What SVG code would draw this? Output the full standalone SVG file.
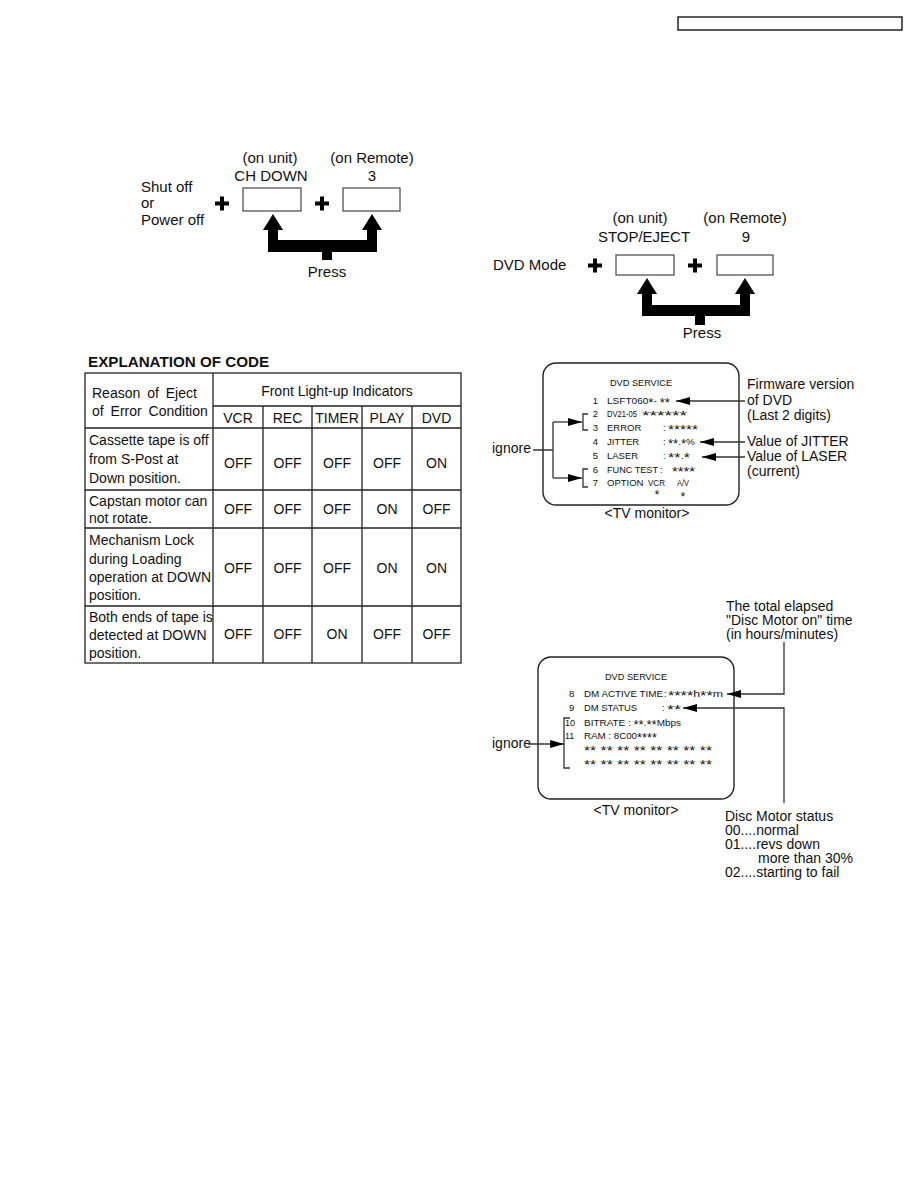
<svg xmlns="http://www.w3.org/2000/svg" width="918" height="1188" viewBox="0 0 918 1188">
<defs>
<style>
text{font-family:"Liberation Sans",Arial,sans-serif;fill:#111}
.t15{font-size:15px}
.t14{font-size:14px}
.tv{font-size:9.5px}
.st{font-size:12.5px}
.mid{text-anchor:middle}
.end{text-anchor:end}
.box{fill:#fff;stroke:#444;stroke-width:1.2}
.plus{stroke:#000;stroke-width:4;fill:none}
.grid{stroke:#222;stroke-width:1.3;fill:none}
.scr{fill:#fff;stroke:#222;stroke-width:1.4}
.ln{stroke:#333;stroke-width:1.3;fill:none}
.bold{font-weight:bold}
</style>
<marker id="ah" markerUnits="userSpaceOnUse" markerWidth="14" markerHeight="8" refX="14" refY="4" orient="auto">
<path d="M0,0 L14,4 L0,8 z" fill="#000"/>
</marker>
</defs>
<rect width="918" height="1188" fill="#fff"/>

<rect id="header-box" x="678" y="17" width="224" height="13" fill="none" stroke="#000" stroke-width="1.3"/>

<g id="power-combo">
<text class="t15" x="141" y="192">Shut off</text>
<text class="t15" x="141" y="208">or</text>
<text class="t15" x="141" y="225">Power off</text>
<path class="plus" d="M215,203.5 h14 M222,196.5 v14"/>
<text class="t15 mid" x="270" y="163">(on unit)</text>
<text class="t15 mid" x="271" y="181">CH DOWN</text>
<rect class="box" x="243" y="188" width="58" height="23"/>
<path class="plus" d="M315,203.5 h14 M322,196.5 v14"/>
<text class="t15 mid" x="372" y="163">(on Remote)</text>
<text class="t15 mid" x="372" y="181">3</text>
<rect class="box" x="343" y="188" width="57" height="23"/>
<polygon fill="#000" points="273,214 283,230 278,230 278,240 367,240 367,230 362,230 372,214 382,230 377,230 377,252 332,252 332,260 322,260 322,252 268,252 268,230 263,230"/>
<text class="t15 mid" x="327" y="277">Press</text>
</g>

<g id="dvd-combo">
<text class="t15" x="493" y="270">DVD Mode</text>
<path class="plus" d="M588,265.5 h14 M595,258.5 v14"/>
<text class="t15 mid" x="640" y="223">(on unit)</text>
<text class="t15 mid" x="644" y="242">STOP/EJECT</text>
<rect class="box" x="616" y="255" width="58" height="20"/>
<path class="plus" d="M688,265.5 h14 M695,258.5 v14"/>
<text class="t15 mid" x="745" y="223">(on Remote)</text>
<text class="t15 mid" x="746" y="242">9</text>
<rect class="box" x="717" y="255" width="56" height="20"/>
<polygon fill="#000" points="647,278 657,294 652,294 652,305 740,305 740,294 735,294 745,278 755,294 750,294 750,316 705,316 705,325 695,325 695,316 642,316 642,294 637,294"/>
<text class="t15 mid" x="702" y="338">Press</text>
</g>

<g id="code-table">
<text class="bold" x="88" y="367" font-size="15.2">EXPLANATION OF CODE</text>
<rect class="grid" x="85" y="373" width="376" height="290" stroke-width="1.6"/>
<path class="grid" d="M213,373 V663 M213,406 H461 M85,428 H461 M263,406 V663 M312,406 V663 M362,406 V663 M412,406 V663 M85,490 H461 M85,528 H461 M85,606 H461"/>
<g class="t14">
<text x="92" y="398" word-spacing="3">Reason of Eject</text>
<text x="92" y="416" word-spacing="3">of Error Condition</text>
<text class="mid" x="337" y="396">Front Light-up Indicators</text>
<text class="mid" x="238" y="423">VCR</text>
<text class="mid" x="287.5" y="423">REC</text>
<text class="mid" x="337" y="423">TIMER</text>
<text class="mid" x="387" y="423">PLAY</text>
<text class="mid" x="436.5" y="423">DVD</text>

<text x="89" y="445">Cassette tape is off</text>
<text x="89" y="464">from S-Post at</text>
<text x="89" y="483">Down position.</text>
<text class="mid" x="238" y="468">OFF</text>
<text class="mid" x="287.5" y="468">OFF</text>
<text class="mid" x="337" y="468">OFF</text>
<text class="mid" x="387" y="468">OFF</text>
<text class="mid" x="436.5" y="468">ON</text>

<text x="89" y="506">Capstan motor can</text>
<text x="89" y="523">not rotate.</text>
<text class="mid" x="238" y="514">OFF</text>
<text class="mid" x="287.5" y="514">OFF</text>
<text class="mid" x="337" y="514">OFF</text>
<text class="mid" x="387" y="514">ON</text>
<text class="mid" x="436.5" y="514">OFF</text>

<text x="89" y="545">Mechanism Lock</text>
<text x="89" y="563.5">during Loading</text>
<text x="89" y="582">operation at DOWN</text>
<text x="89" y="600">position.</text>
<text class="mid" x="238" y="573">OFF</text>
<text class="mid" x="287.5" y="573">OFF</text>
<text class="mid" x="337" y="573">OFF</text>
<text class="mid" x="387" y="573">ON</text>
<text class="mid" x="436.5" y="573">ON</text>

<text x="89" y="622">Both ends of tape is</text>
<text x="89" y="640">detected at DOWN</text>
<text x="89" y="658">position.</text>
<text class="mid" x="238" y="639">OFF</text>
<text class="mid" x="287.5" y="639">OFF</text>
<text class="mid" x="337" y="639">ON</text>
<text class="mid" x="387" y="639">OFF</text>
<text class="mid" x="436.5" y="639">OFF</text>
</g>
</g>

<g id="tv-monitor-1">
<rect class="scr" x="543" y="363" width="196" height="142" rx="13"/>
<text class="tv mid" x="641" y="386" textLength="62" lengthAdjust="spacingAndGlyphs">DVD SERVICE</text>
<text class="tv end" x="598" y="404">1</text>
<text class="tv" x="607" y="404" textLength="63" lengthAdjust="spacingAndGlyphs">LSFT060<tspan class="st" dy="3">*</tspan><tspan dy="-3">- </tspan><tspan class="st" dy="3">**</tspan></text>
<text class="tv end" x="598" y="417">2</text>
<text class="tv" x="607" y="417" textLength="30" lengthAdjust="spacingAndGlyphs">DV21-05</text>
<text class="st" x="642" y="420" textLength="45" lengthAdjust="spacingAndGlyphs">******</text>
<text class="tv end" x="598" y="431">3</text>
<text class="tv" x="607" y="431">ERROR</text>
<text class="tv" x="663" y="431">:</text>
<text class="st" x="668" y="434" textLength="30" lengthAdjust="spacingAndGlyphs">*****</text>
<text class="tv end" x="598" y="445">4</text>
<text class="tv" x="607" y="445">JITTER</text>
<text class="tv" x="663" y="445">:</text>
<text class="tv" x="668" y="445" textLength="27" lengthAdjust="spacingAndGlyphs"><tspan class="st" dy="3">**</tspan><tspan dy="-3">.</tspan><tspan class="st" dy="3">*</tspan><tspan dy="-3">%</tspan></text>
<text class="tv end" x="598" y="459">5</text>
<text class="tv" x="607" y="459">LASER</text>
<text class="tv" x="663" y="459">:</text>
<text class="tv" x="668" y="459" textLength="22" lengthAdjust="spacingAndGlyphs"><tspan class="st" dy="3">**</tspan><tspan dy="-3">.</tspan><tspan class="st" dy="3">*</tspan></text>
<text class="tv end" x="598" y="473">6</text>
<text class="tv" x="607" y="473" textLength="51" lengthAdjust="spacingAndGlyphs">FUNC TEST</text>
<text class="tv" x="660" y="473">:</text>
<text class="st" x="672" y="476" textLength="23" lengthAdjust="spacingAndGlyphs">****</text>
<text class="tv end" x="598" y="486">7</text>
<text class="tv" x="607" y="486">OPTION</text>
<text class="tv" x="648" y="486" textLength="17" lengthAdjust="spacingAndGlyphs">VCR</text>
<text class="tv" x="677" y="486" textLength="12" lengthAdjust="spacingAndGlyphs">A/V</text>
<text class="st mid" x="657" y="499">*</text>
<text class="st mid" x="683" y="501">*</text>
<text class="t14 mid" x="647" y="518">&lt;TV monitor&gt;</text>
<text class="t14" x="747" y="389">Firmware version</text>
<text class="t14" x="747" y="405">of DVD</text>
<text class="t14" x="747" y="420">(Last 2 digits)</text>
<text class="t14" x="747" y="446">Value of JITTER</text>
<text class="t14" x="747" y="461">Value of LASER</text>
<text class="t14" x="747" y="476">(current)</text>
<text class="t14" x="492" y="453">ignore</text>
</g>

<g id="tv-monitor-2">
<rect class="scr" x="538" y="657" width="196" height="142" rx="13"/>
<text class="tv mid" x="636" y="680" textLength="62" lengthAdjust="spacingAndGlyphs">DVD SERVICE</text>
<text class="tv" x="569" y="697">8</text>
<text class="tv" x="584" y="697" textLength="79" lengthAdjust="spacingAndGlyphs">DM ACTIVE TIME</text>
<text class="tv" x="664" y="697">:</text>
<text class="tv" x="668" y="697" textLength="55" lengthAdjust="spacingAndGlyphs"><tspan class="st" dy="3">****</tspan><tspan dy="-3">h</tspan><tspan class="st" dy="3">**</tspan><tspan dy="-3">m</tspan></text>
<text class="tv" x="569" y="711">9</text>
<text class="tv" x="584" y="711" textLength="53" lengthAdjust="spacingAndGlyphs">DM STATUS</text>
<text class="tv" x="662" y="711">:</text>
<text class="st" x="667" y="714" textLength="14" lengthAdjust="spacingAndGlyphs">**</text>
<text class="tv" x="565" y="726" textLength="10" lengthAdjust="spacingAndGlyphs">10</text>
<text class="tv" x="584" y="726" textLength="97" lengthAdjust="spacingAndGlyphs">BITRATE : <tspan class="st" dy="3">**</tspan><tspan dy="-3">.</tspan><tspan class="st" dy="3">**</tspan><tspan dy="-3">Mbps</tspan></text>
<text class="tv" x="565" y="739" textLength="9" lengthAdjust="spacingAndGlyphs">11</text>
<text class="tv" x="584" y="739" textLength="73" lengthAdjust="spacingAndGlyphs">RAM : 8C00<tspan class="st" dy="3">****</tspan></text>
<text class="st" x="584" y="755" textLength="128" lengthAdjust="spacingAndGlyphs">** ** ** ** ** ** ** **</text>
<text class="st" x="584" y="769" textLength="128" lengthAdjust="spacingAndGlyphs">** ** ** ** ** ** ** **</text>
<text class="t14 mid" x="636" y="815">&lt;TV monitor&gt;</text>
<text class="t14" x="726" y="611">The total elapsed</text>
<text class="t14" x="726" y="625">"Disc Motor on" time</text>
<text class="t14" x="726" y="639">(in hours/minutes)</text>
<text class="t14" x="725" y="821">Disc Motor status</text>
<text class="t14" x="725" y="835">00....normal</text>
<text class="t14" x="725" y="849">01....revs down</text>
<text class="t14" x="758" y="863">more than 30%</text>
<text class="t14" x="725" y="877">02....starting to fail</text>
<text class="t14" x="492" y="748">ignore</text>
</g>

<g id="connectors">
<line class="ln" x1="745" y1="401" x2="676" y2="401" marker-end="url(#ah)"/>
<line class="ln" x1="745" y1="442" x2="700" y2="442" marker-end="url(#ah)"/>
<line class="ln" x1="745" y1="457" x2="702" y2="457" marker-end="url(#ah)"/>
<path class="ln" d="M533,450 H553 M553,422 V478"/>
<line class="ln" x1="553" y1="422" x2="582" y2="422" marker-end="url(#ah)"/>
<line class="ln" x1="553" y1="478" x2="582" y2="478" marker-end="url(#ah)"/>
<path class="ln" d="M588,414 H583 V430 H588 M588,469 H583 V487 H588"/>
<polyline class="ln" points="784,642 784,694 727,694" marker-end="url(#ah)"/>
<polyline class="ln" points="784,803 784,708 683,708" marker-end="url(#ah)"/>
<line class="ln" x1="528" y1="744" x2="564" y2="744" marker-end="url(#ah)"/>
<path class="ln" d="M570,718 H564 V768 H570"/>
</g>
</svg>
